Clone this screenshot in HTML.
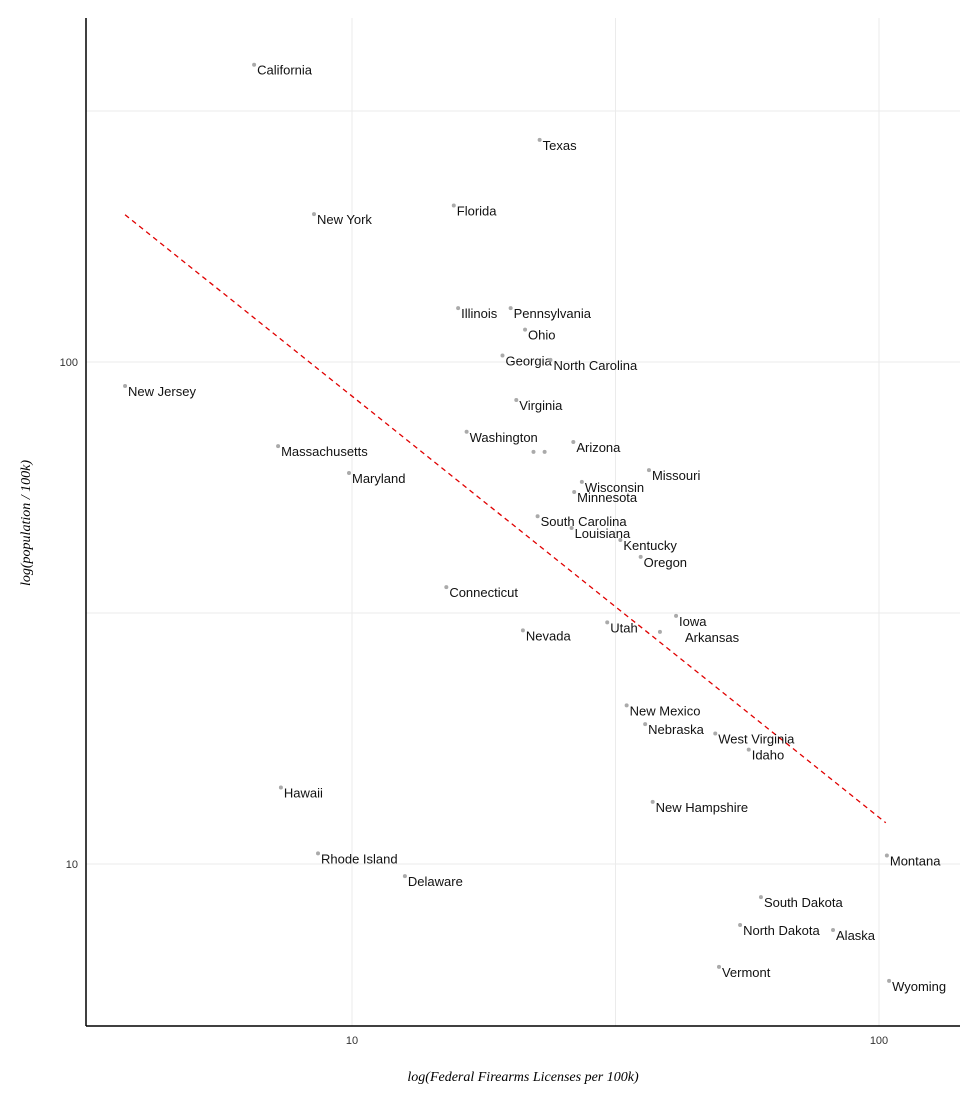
<!DOCTYPE html>
<html><head><meta charset="utf-8"><style>
body{margin:0;background:#fff;}
svg text{font-family:"Liberation Sans",sans-serif;}
</style></head><body>
<svg id="chart" width="980" height="1103" xmlns="http://www.w3.org/2000/svg">
<g id="grid"></g>
<g id="line"></g>
<g id="pts"></g>
<line x1="86" y1="18" x2="86" y2="1026" stroke="#000" stroke-width="1.5"/>
<line x1="86" y1="1026" x2="960" y2="1026" stroke="#000" stroke-width="1.5"/>
<g id="ticks"></g>
<text x="523" y="1081" text-anchor="middle" font-size="14" font-style="italic" style="font-family:'Liberation Serif',serif">log(Federal Firearms Licenses per 100k)</text>
<text transform="translate(30,523) rotate(-90)" text-anchor="middle" font-size="14" font-style="italic" style="font-family:'Liberation Serif',serif">log(population / 100k)</text>
</svg>
<script>
const states=["California","Texas","New York","Florida","Illinois","Pennsylvania","Ohio","Georgia","North Carolina","New Jersey","Virginia","Washington","Arizona","Massachusetts","Maryland","Missouri","Wisconsin","Minnesota","South Carolina","Louisiana","Kentucky","Oregon","Connecticut","Iowa","Utah","Nevada","Arkansas","New Mexico","Nebraska","West Virginia","Idaho","Hawaii","New Hampshire","Rhode Island","Montana","Delaware","South Dakota","North Dakota","Alaska","Vermont","Wyoming","",""];
const ffl=[6.52,22.7,8.47,15.6,15.9,20.0,21.3,19.3,23.8,3.71,20.5,16.5,26.3,7.24,9.87,36.6,27.3,26.4,22.5,26.1,32.3,35.3,15.1,41.2,30.5,21.1,38.4,33.2,36.0,48.9,56.6,7.33,37.2,8.62,103.5,12.6,59.7,54.5,81.8,49.7,104.5,22.1,23.2];
const pop=[391,277,197,205,128,128,116,103,101,89.6,84,72.6,69.3,68.0,60.1,60.9,57.7,55.1,49.3,46.7,44.2,40.9,35.6,31.2,30.3,29.2,29.0,20.7,19.0,18.2,16.9,14.2,13.3,10.5,10.4,9.46,8.59,7.56,7.39,6.24,5.85,66.2,66.2];
const labelDx=[0,0,0,0,0,0,0,0,0,0,0,0,0,0,0,0,0,0,0,0,0,0,0,0,0,0,22,0,0,0,0,0,0,0,0,0,0,0,0,0,0,0,0];
const xTicks=[10,100];
const yTicks=[10,100];
const xGrid=[10,31.62,100];
const yGrid=[10,31.62,100,316.2];
const fitIntercept=2.771, fitSlope=-0.839, fitRange=[3.71,103];
const sx=v=>352+(Math.log10(v)-1)*527;
const sy=v=>362-(Math.log10(v)-2)*502;
const NS="http://www.w3.org/2000/svg";
function mk(t,a,p){const e=document.createElementNS(NS,t);for(const k in a)e.setAttribute(k,a[k]);p.appendChild(e);return e;}
const g=document.getElementById('grid');
xGrid.forEach(v=>{const l=mk('line',{x1:sx(v),x2:sx(v),y1:18,y2:1026,stroke:'#ebebeb','stroke-width':1},g);

});
yGrid.forEach(v=>{const l=mk('line',{x1:86,x2:960,y1:sy(v),y2:sy(v),stroke:'#ebebeb','stroke-width':1},g);

});
const tk=document.getElementById('ticks');
xTicks.forEach(v=>{const t=mk('text',{x:sx(v),y:1044,'text-anchor':'middle','font-size':11,fill:'#333'},tk);t.textContent=v;

});
yTicks.forEach(v=>{const t=mk('text',{x:78,y:sy(v)+4,'text-anchor':'end','font-size':11,fill:'#333'},tk);t.textContent=v;

});
const lg=document.getElementById('line');
const f=x=>Math.pow(10,fitIntercept+fitSlope*Math.log10(x));
const tl=mk('line',{x1:sx(fitRange[0]),y1:sy(f(fitRange[0])),x2:sx(fitRange[1]),y2:sy(f(fitRange[1])),stroke:'#e00000','stroke-width':1.3,'stroke-dasharray':'5,4'},lg);


const pg=document.getElementById('pts');
states.forEach((s,i)=>{const x=sx(ffl[i]),y=sy(pop[i]);
const c=mk('circle',{cx:x,cy:y,r:2,fill:'#aaa'},pg);


if(s){const t=mk('text',{x:x+3+labelDx[i],y:y+10,'font-size':13,fill:'#111'},pg);t.textContent=s;

}
});
</script>
</body></html>
